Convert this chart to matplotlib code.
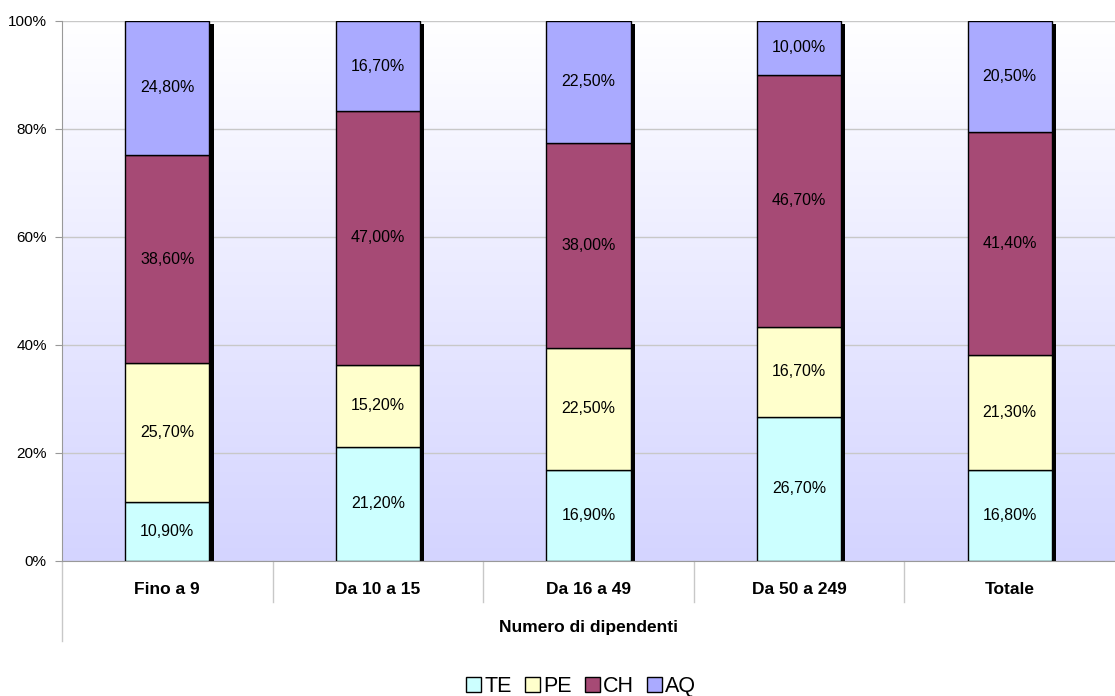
import numpy as np
import matplotlib
matplotlib.use("Agg")
from matplotlib import pyplot as plt
from matplotlib.colors import LinearSegmentedColormap
from matplotlib.lines import Line2D

categorie = ["Fino a 9", "Da 10 a 15", "Da 16 a 49", "Da 50 a 249", "Totale"]
serie = ["TE", "PE", "CH", "AQ"]
te = [10.9, 21.2, 16.9, 26.7, 16.8]
pe = [25.7, 15.2, 22.5, 16.7, 21.3]
ch = [38.6, 47.0, 38.0, 46.7, 41.4]
aq = [24.8, 16.7, 22.5, 10.0, 20.5]
colori = ["#CCFFFF", "#FFFFCC", "#A64A75", "#AAAAFF"]

plt.rcParams['font.family'] = ['Liberation Sans', 'DejaVu Sans']

fig = plt.figure(figsize=(11.15, 6.96), dpi=100)
ax = fig.add_axes([62 / 1115, 135 / 696, 1 - 62 / 1115, 540 / 696])

x = np.arange(len(categorie))
dati = np.array([te, pe, ch, aq])
tot = dati.sum(axis=0)
perc = dati / tot * 100

# sfondo sfumato (bianco in alto, lilla in basso)
grad = np.linspace(0, 1, 256).reshape(-1, 1)
cmap = LinearSegmentedColormap.from_list("sfondo", ["#FFFFFF", "#D4D4FF"])
ax.imshow(grad, cmap=cmap, aspect='auto', extent=[-0.5, 4.5, 0, 100], zorder=0)

larg = 0.40
# ombra nera delle barre
ax.bar(x + 0.02, 100 - 0.6, width=larg, color='black', zorder=2)

base = np.zeros(len(categorie))
for i in range(len(serie)):
    ax.bar(x, perc[i], width=larg, bottom=base, color=colori[i], edgecolor='black',
           linewidth=1, label=serie[i], zorder=3)
    for j in range(len(categorie)):
        testo = ("%.2f%%" % dati[i][j]).replace(".", ",")
        ax.text(x[j], base[j] + perc[i][j] / 2, testo, ha='center', va='center',
                fontsize=11.5, zorder=4)
    base = base + perc[i]

ax.set_xlim(-0.5, 4.5)
ax.set_ylim(0, 100)
ax.set_yticks([0, 20, 40, 60, 80, 100])
ax.set_yticklabels(["0%", "20%", "40%", "60%", "80%", "100%"], fontsize=11)
ax.yaxis.grid(True, color='#C8C8C8', linewidth=1, zorder=1)
ax.set_axisbelow(True)
ax.tick_params(axis='y', length=5, color='#999999', pad=6)
ax.set_xticks([])
for s in ['top', 'right']:
    ax.spines[s].set_visible(False)
for s in ['left', 'bottom']:
    ax.spines[s].set_color('#999999')

# etichette categorie
for j in range(len(categorie)):
    ax.text(x[j], -5.2, categorie[j], ha='center', va='center', fontsize=12.5,
            fontweight='bold', clip_on=False)
for j in range(1, len(categorie)):
    ax.add_line(Line2D([j - 0.5, j - 0.5], [0, -7.5], color='#C8C8C8', linewidth=1, clip_on=False))
ax.add_line(Line2D([-0.5, -0.5], [0, -14.8], color='#C8C8C8', linewidth=1, clip_on=False))
ax.text(2, -12.4, "Numero di dipendenti", ha='center', va='center', fontsize=12.5,
        fontweight='bold', clip_on=False)

ax.legend(loc='center', bbox_to_anchor=(0.493, -0.233), ncol=4, frameon=False,
          fontsize=15.5, handlelength=0.7, handleheight=0.7, handletextpad=0.15,
          columnspacing=0.6)

fig.savefig("out.png", dpi=100)
